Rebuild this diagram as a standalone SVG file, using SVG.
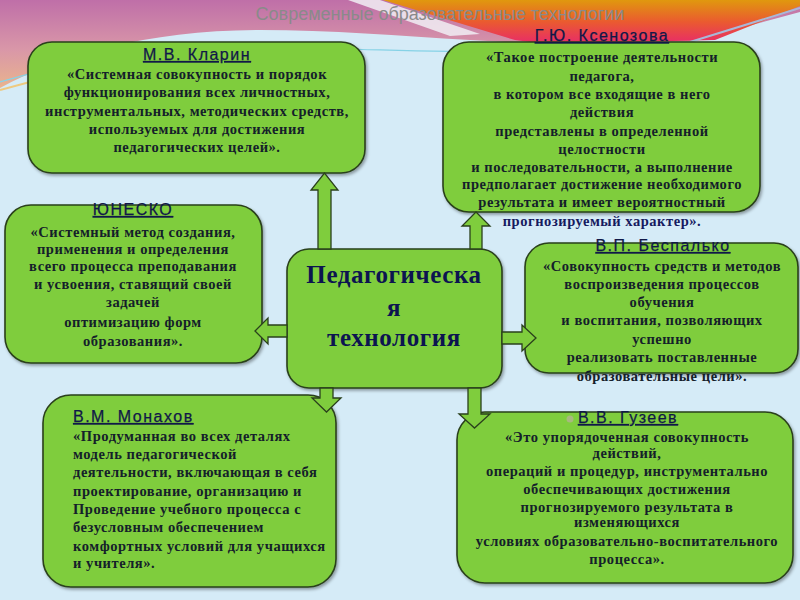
<svg xmlns="http://www.w3.org/2000/svg" width="800" height="600" viewBox="0 0 800 600">
<defs>
<linearGradient id="gPink" x1="0" y1="0" x2="0" y2="90" gradientUnits="userSpaceOnUse">
<stop offset="0" stop-color="#bf6fa8"/>
<stop offset="0.55" stop-color="#d997a8"/>
<stop offset="1" stop-color="#eab58c"/>
</linearGradient>
<linearGradient id="gOrange" x1="0" y1="0" x2="0" y2="44" gradientUnits="userSpaceOnUse">
<stop offset="0" stop-color="#e0980e"/>
<stop offset="0.5" stop-color="#ea5a30"/>
<stop offset="1" stop-color="#e82a6a"/>
</linearGradient>
<filter id="sh" x="-10%" y="-10%" width="120%" height="120%">
<feDropShadow dx="1.5" dy="2" stdDeviation="1.5" flood-color="#000" flood-opacity="0.35"/>
</filter>
<style>
.box{fill:#7fcd3d;stroke:#2a401c;stroke-width:1.6;filter:url(#sh)}
.arr{fill:#7fcd3d;stroke:#2a401c;stroke-width:1.3;stroke-linejoin:miter}
.ttl{font-family:"Liberation Sans",Arial,sans-serif;font-size:16px;fill:#101848;stroke:#101848;stroke-width:0.25px;letter-spacing:1.5px;text-decoration:underline;text-anchor:middle}
.txt{font-family:"Liberation Serif","Times New Roman",serif;font-weight:bold;font-size:14.5px;fill:#14202a;letter-spacing:0.55px;text-anchor:middle}
.lft{text-anchor:start}
.ctr{font-family:"Liberation Serif","Times New Roman",serif;font-weight:bold;font-size:25px;fill:#0c1450;text-anchor:middle;letter-spacing:0.6px}
.hdr{font-family:"Liberation Sans",Arial,sans-serif;font-size:18px;fill:#8a8a8a;text-anchor:middle}
</style>
</defs>
<!-- background -->
<rect x="0" y="0" width="800" height="600" fill="#d5ebf7"/>
<path d="M0,0 H800 V12 L690,42 L560,45 L470,40 C400,36 330,30 260,30 C150,30 60,55 0,88 Z" fill="url(#gPink)"/>
<path d="M383,0 H800 V6 L715,40 L545,44 L515,40 Z" fill="url(#gOrange)"/>
<path d="M348,0 L380,0 L480,34 L450,36 Z" fill="#f1eef4" opacity="0.85"/>
<path d="M0,82 C80,58 180,46 300,48 C400,50 480,54 580,52" fill="none" stroke="#86d2e6" stroke-width="1.2"/>
<path d="M0,90 C70,70 150,58 230,52" fill="none" stroke="#f4c060" stroke-width="2" opacity="0.8"/>
<path d="M690,42 L800,8" fill="none" stroke="#a8b8d8" stroke-width="2"/>
<text class="hdr" x="440" y="20">Современные образовательные технологии</text>

<g id="node-klarin">
<rect class="box" x="28" y="42" width="337" height="131" rx="24"/>
<text class="ttl" x="197" y="60">М.В. Кларин</text>
<text class="txt" x="197" y="79">«Системная совокупность и порядок</text>
<text class="txt" x="197" y="97">функционирования всех личностных,</text>
<text class="txt" x="197" y="116">инструментальных, методических средств,</text>
<text class="txt" x="197" y="134">используемых для достижения</text>
<text class="txt" x="197" y="152">педагогических целей».</text>
</g>

<g id="node-ksenozova">
<rect class="box" x="443" y="42" width="317" height="170" rx="26"/>
<text class="ttl" x="602" y="41">Г.Ю. Ксенозова</text>
<text class="txt" x="602" y="62">«Такое построение деятельности</text>
<text class="txt" x="602" y="81">педагога,</text>
<text class="txt" x="602" y="99">в котором все входящие в него</text>
<text class="txt" x="602" y="117">действия</text>
<text class="txt" x="602" y="136">представлены в определенной</text>
<text class="txt" x="602" y="154">целостности</text>
<text class="txt" x="602" y="172">и последовательности, а выполнение</text>
<text class="txt" x="602" y="189">предполагает достижение необходимого</text>
<text class="txt" x="602" y="207">результата и имеет вероятностный</text>
<text class="txt" x="602" y="226" style="fill:#151a60">прогнозируемый характер».</text>
</g>

<g id="node-unesco">
<rect class="box" x="5" y="205" width="257" height="158" rx="26"/>
<text class="ttl" x="133" y="215">ЮНЕСКО</text>
<text class="txt" x="133" y="237">«Системный метод создания,</text>
<text class="txt" x="133" y="254">применения и определения</text>
<text class="txt" x="133" y="271">всего процесса преподавания</text>
<text class="txt" x="133" y="289">и усвоения, ставящий своей</text>
<text class="txt" x="133" y="307">задачей</text>
<text class="txt" x="133" y="327">оптимизацию форм</text>
<text class="txt" x="133" y="346">образования».</text>
</g>

<g id="node-bespalko">
<rect class="box" x="525" y="243" width="273" height="130" rx="24"/>
<text class="ttl" x="663" y="251">В.П. Беспалько</text>
<text class="txt" x="662" y="271">«Совокупность  средств и методов</text>
<text class="txt" x="662" y="289">воспроизведения процессов</text>
<text class="txt" x="662" y="307">обучения</text>
<text class="txt" x="662" y="325">и воспитания, позволяющих</text>
<text class="txt" x="662" y="344">успешно</text>
<text class="txt" x="662" y="362">реализовать поставленные</text>
<text class="txt" x="662" y="381">образовательные цели».</text>
</g>

<g id="node-center">
<rect class="box" x="287" y="249" width="215" height="139" rx="22"/>
<text class="ctr" x="394" y="283">Педагогическа</text>
<text class="ctr" x="394" y="316">я</text>
<text class="ctr" x="394" y="346">технология</text>
</g>

<g id="node-monakhov">
<rect class="box" x="43" y="395" width="293" height="192" rx="28"/>
<text class="ttl lft" x="73" y="422">В.М. Монахов</text>
<text class="txt lft" x="73" y="441">«Продуманная во всех деталях</text>
<text class="txt lft" x="73" y="459">модель педагогической</text>
<text class="txt lft" x="73" y="477">деятельности, включающая в себя</text>
<text class="txt lft" x="73" y="496">проектирование, организацию и</text>
<text class="txt lft" x="73" y="514">Проведение учебного процесса с</text>
<text class="txt lft" x="73" y="532">безусловным обеспечением</text>
<text class="txt lft" x="73" y="551">комфортных условий для учащихся</text>
<text class="txt lft" x="73" y="568">и учителя».</text>
</g>

<g id="node-guzeev">
<rect class="box" x="457" y="412" width="336" height="171" rx="28"/>
<circle cx="570" cy="419" r="3.5" fill="#a8b880"/>
<text class="ttl" x="628" y="423">В.В. Гузеев</text>
<text class="txt" x="627" y="442">«Это упорядоченная совокупность</text>
<text class="txt" x="627" y="458">действий,</text>
<text class="txt" x="627" y="476">операций и процедур, инструментально</text>
<text class="txt" x="627" y="494">обеспечивающих достижения</text>
<text class="txt" x="627" y="512">прогнозируемого результата в</text>
<text class="txt" x="627" y="527">изменяющихся</text>
<text class="txt" x="627" y="546">условиях образовательно-воспитательного</text>
<text class="txt" x="627" y="564">процесса».</text>
</g>

<g id="connectors">
<polygon class="arr" points="318,249 318,190 311,190 324.5,173 338,190 331,190 331,249"/>
<polygon class="arr" points="470,249 470,226 462,226 476,212 490,226 482,226 482,249"/>
<polygon class="arr" points="287,325 268,325 268,318 255,331 268,344 268,337 287,337"/>
<polygon class="arr" points="502,332 522,332 522,325 536,338 522,351 522,344 502,344"/>
<polygon class="arr" points="320,388 320,398 312,398 326.5,412 341,398 333,398 333,388"/>
<polygon class="arr" points="468,388 468,414 459,414 474.5,428 490,414 481,414 481,388"/>
</g>
</svg>
